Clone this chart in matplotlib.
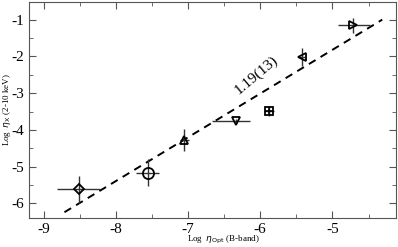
import matplotlib
matplotlib.use("Agg")
import matplotlib.pyplot as plt
from matplotlib.ticker import MultipleLocator

# data
log_opt = [-8.51, -7.56, -7.05, -6.34, -5.88, -5.42, -4.71]
log_x = [-5.62, -5.16, -4.28, -3.76, -3.49, -2.01, -1.16]
xerr_lo = [0.30, 0.16, 0.06, 0.33, 0.07, 0.04, 0.21]
xerr_hi = [0.29, 0.16, 0.06, 0.20, 0.07, 0.04, 0.23]
yerr = [0.36, 0.36, 0.30, 0.06, 0.14, 0.24, 0.21]
markers = ["D", "o", "^", "v", "s", "<", ">"]
sizes = [5, 8, 6, 6, 6, 6, 6]

# fitted slope line
fit_x = [-8.71, -4.31]
fit_y = [-6.24, -1.0]
fit_label = "1.19(13)"

plt.rcParams["font.family"] = ["Liberation Serif", "DejaVu Serif"]
plt.rcParams["axes.unicode_minus"] = False

fig = plt.figure(figsize=(3.98, 2.47), dpi=100)
ax = fig.add_axes([0.073, 0.117, 0.922, 0.875])

for i in range(len(log_opt)):
    ax.errorbar(log_opt[i], log_x[i], xerr=[[xerr_lo[i]], [xerr_hi[i]]],
                yerr=yerr[i], fmt="none", ecolor="#333333", elinewidth=1.0,
                capsize=0, zorder=2)
    ax.plot(log_opt[i], log_x[i], marker=markers[i], ms=sizes[i],
            mfc="none", mec="black", mew=1.3, linestyle="none", zorder=3)
# the square point has a cross inside
ax.plot(log_opt[4], log_x[4], marker="+", ms=6, mec="black", mew=1.2,
        linestyle="none", zorder=3)

ax.plot(fit_x, fit_y, "k--", lw=1.4, dashes=(4, 3), zorder=1)
ax.text(-6.05, -2.5, fit_label, rotation=40, fontsize=11,
        ha="center", va="center")

ax.set_xlim(-9.2, -4.12)
ax.set_ylim(-6.4, -0.52)
ax.xaxis.set_major_locator(MultipleLocator(1))
ax.xaxis.set_minor_locator(MultipleLocator(0.5))
ax.yaxis.set_major_locator(MultipleLocator(1))
ax.yaxis.set_minor_locator(MultipleLocator(0.5))
ax.tick_params(which="both", direction="in", top=True, right=True,
               labelsize=11, color="#555555")
ax.tick_params(which="major", length=5)
ax.tick_params(which="minor", length=3)
for s in ax.spines.values():
    s.set_color("#555555")

ax.set_xlabel(r"Log  $\eta_{\rm Opt}$ " + "(B-band)", fontsize=6.5)
ax.xaxis.set_label_coords(0.53, -0.075)
ax.set_ylabel(r"Log  $\eta_{\rm X}$ " + "(2-10 keV)", fontsize=6.5)
ax.yaxis.set_label_coords(-0.045, 0.5)

fig.savefig("out.png", dpi=100)
